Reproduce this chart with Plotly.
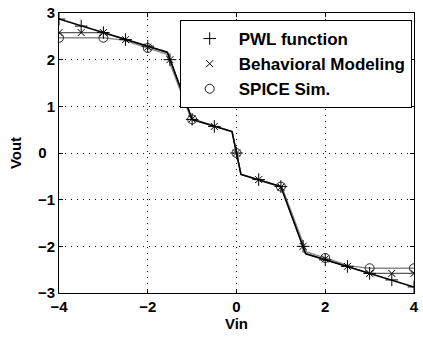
import plotly.graph_objects as go

# Sample points where the markers are placed
vin_half = [-4, -3.5, -3, -2.5, -2, -1.5, -1, -0.5, 0, 0.5, 1, 1.5, 2, 2.5, 3, 3.5, 4]
vin_unit = [-4, -3, -2, -1, 0, 1, 2, 3, 4]

# PWL function: breakpoints of the line and sampled values
pwl_x = [-4, -1.56, -1.0, -0.1, 0.1, 1.0, 1.56, 4]
pwl_y = [2.87, 2.16, 0.72, 0.46, -0.46, -0.72, -2.16, -2.87]
pwl_pts = [2.87, 2.72, 2.58, 2.43, 2.29, 2.0, 0.72, 0.57, 0.0,
           -0.57, -0.72, -2.0, -2.29, -2.43, -2.58, -2.72, -2.87]

# Behavioral modeling (saturates beyond |Vin| = 3)
beh_x = [-4, -3, -1.55, -1.0, -0.1, 0.1, 1.0, 1.55, 3, 4]
beh_y = [2.58, 2.58, 2.15, 0.73, 0.46, -0.46, -0.73, -2.15, -2.58, -2.58]
beh_pts = [2.58, 2.58, 2.58, 2.43, 2.27, 2.0, 0.73, 0.57, 0.0,
           -0.57, -0.73, -2.0, -2.27, -2.43, -2.58, -2.58, -2.58]

# SPICE simulation
sp_x = [-4, -3, -2.55, -2, -1.58, -1.02, -0.1, 0.1, 1.02, 1.58, 2, 2.55, 3, 4]
sp_y = [2.47, 2.47, 2.42, 2.25, 2.12, 0.72, 0.45, -0.45, -0.72, -2.12, -2.25, -2.42, -2.47, -2.47]
sp_pts = [2.47, 2.47, 2.25, 0.72, 0.0, -0.72, -2.25, -2.47, -2.47]

x_ticks = [-4, -2, 0, 2, 4]
y_ticks = [-3, -2, -1, 0, 1, 2, 3]
NB = "\u00a0"
y_ticktext = ["\u22123", "\u22122", "\u22121", "0" + NB * 2, "1", "2", "3"]

FONT = "Liberation Sans, Arial, sans-serif"

fig = go.Figure()

# Lines (not in legend)
fig.add_trace(go.Scatter(x=sp_x, y=sp_y, mode="lines",
                         line=dict(color="#8a8a8a", width=1.3), showlegend=False, hoverinfo="skip"))
fig.add_trace(go.Scatter(x=beh_x, y=beh_y, mode="lines",
                         line=dict(color="#5a5a5a", width=1.3), showlegend=False, hoverinfo="skip"))
fig.add_trace(go.Scatter(x=pwl_x, y=pwl_y, mode="lines",
                         line=dict(color="black", width=1.5), showlegend=False, hoverinfo="skip"))

# Markers (legend entries)
fig.add_trace(go.Scatter(x=vin_half, y=pwl_pts, mode="markers", name="PWL function",
                         legendgroup="a",
                         marker=dict(symbol="cross-thin-open", size=9, color="black",
                                     line=dict(color="black", width=1))))
fig.add_trace(go.Scatter(x=vin_half, y=beh_pts, mode="markers", name="Behavioral Modeling",
                         legendgroup="b",
                         marker=dict(symbol="x-thin-open", size=7, color="black",
                                     line=dict(color="black", width=1))))
fig.add_trace(go.Scatter(x=vin_unit, y=sp_pts, mode="markers", name="SPICE Sim.",
                         legendgroup="c",
                         marker=dict(symbol="circle-open", size=9, color="#222222",
                                     line=dict(color="#222222", width=1))))

axis_common = dict(
    showline=True, linecolor="black", linewidth=1, mirror="ticks",
    ticks="inside", ticklen=4, tickcolor="black", tickwidth=1,
    showgrid=True, gridcolor="black", gridwidth=1, griddash="1px,5px",
    zeroline=False,
    tickfont=dict(family=FONT, size=15, color="black", weight="bold"),
)

fig.update_xaxes(range=[-4, 4], tickvals=x_ticks, **axis_common,
                 title=dict(text="Vin", standoff=2,
                            font=dict(family=FONT, size=15, color="black", weight="bold")))
fig.update_yaxes(range=[-3, 3], tickvals=y_ticks, ticktext=y_ticktext, **axis_common,
                 title=dict(text="Vout", standoff=12,
                            font=dict(family=FONT, size=15, color="black", weight="bold")))

fig.update_layout(
    width=423, height=343,
    margin=dict(l=58.5, r=4.5, t=12.3, b=50.3),
    paper_bgcolor="white", plot_bgcolor="white",
    legend=dict(x=0.34, y=0.975, xanchor="left", yanchor="top",
                bgcolor="white", bordercolor="black", borderwidth=1,
                tracegroupgap=0, itemwidth=48,
                font=dict(family=FONT, size=17, color="black", weight="bold")),
)

fig.write_html("out.html")
